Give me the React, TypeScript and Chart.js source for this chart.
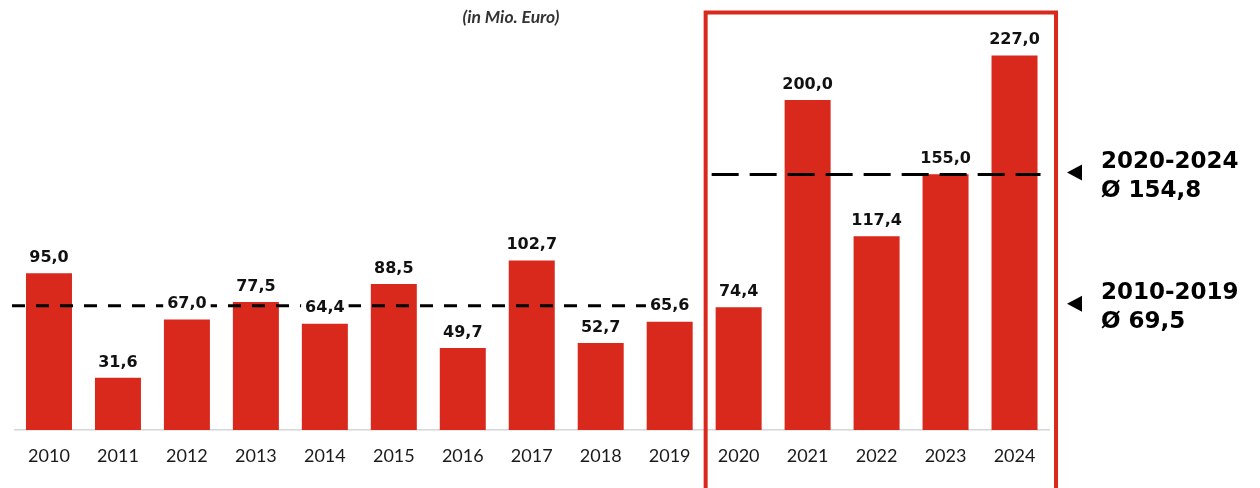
import React, { useEffect, useRef } from "react";
import { Chart, registerables } from "chart.js";

Chart.register(...registerables);

const years = ["2010", "2011", "2012", "2013", "2014", "2015", "2016", "2017", "2018", "2019", "2020", "2021", "2022", "2023", "2024"];
const values = [95.0, 31.6, 67.0, 77.5, 64.4, 88.5, 49.7, 102.7, 52.7, 65.6, 74.4, 200.0, 117.4, 155.0, 227.0];
const valueLabels = ["95,0", "31,6", "67,0", "77,5", "64,4", "88,5", "49,7", "102,7", "52,7", "65,6", "74,4", "200,0", "117,4", "155,0", "227,0"];

// average periods
const periodNames = ["2010-2019", "2020-2024"];
const periodAverages = ["Ø 69,5", "Ø 154,8"];
const periodStart = [0, 10];
const periodEnd = [9, 14];
const lineLevels = [75.3, 154.8];

const subtitle = "(in Mio. Euro)";

const RED = "#D9291C";

const overlayPlugin = {
  id: "overlay",
  afterDatasetsDraw(chart: any) {
    const ctx = chart.ctx;
    const x = chart.scales.x;
    const y = chart.scales.y;
    const meta = chart.getDatasetMeta(0);

    ctx.save();
    // highlight box
    const boxL = x.getPixelForValue(periodStart[1]) - 33;
    const boxR = x.getPixelForValue(periodEnd[1]) + 41.5;
    ctx.strokeStyle = RED;
    ctx.lineWidth = 4;
    ctx.strokeRect(boxL, 12.5, boxR - boxL, 600);

    // dashed average lines
    ctx.strokeStyle = "#000";
    ctx.lineWidth = 3;
    const dashes = [[13, 11], [27, 11]];
    const starts = [-37, -27];
    const ends = [-22, 26];
    for (let i = 0; i < 2; i++) {
      const ly = y.getPixelForValue(lineLevels[i]);
      ctx.setLineDash(dashes[i]);
      ctx.beginPath();
      ctx.moveTo(x.getPixelForValue(periodStart[i]) + starts[i], ly);
      ctx.lineTo(x.getPixelForValue(periodEnd[i]) + ends[i], ly);
      ctx.stroke();
    }
    ctx.setLineDash([]);

    // value labels with white background
    ctx.font = "bold 16px 'DejaVu Sans'";
    ctx.textAlign = "center";
    ctx.textBaseline = "middle";
    meta.data.forEach((bar: any, i: number) => {
      const ty = bar.y - 17;
      const w = ctx.measureText(valueLabels[i]).width;
      ctx.fillStyle = "#fff";
      ctx.fillRect(bar.x - w / 2 - 4, ty - 9, w + 8, 18);
      ctx.fillStyle = "#111";
      ctx.fillText(valueLabels[i], bar.x, ty + 1.5);
    });

    // right side annotations
    for (let i = 0; i < 2; i++) {
      const ly = y.getPixelForValue(lineLevels[i]);
      const c = ly - 2;
      ctx.fillStyle = "#000";
      ctx.beginPath();
      ctx.moveTo(1067, c);
      ctx.lineTo(1082, c - 8);
      ctx.lineTo(1082, c + 8);
      ctx.closePath();
      ctx.fill();
      ctx.font = "bold 23px 'DejaVu Sans'";
      ctx.textAlign = "left";
      ctx.textBaseline = "alphabetic";
      ctx.fillText(periodNames[i], 1101, ly - 7);
      ctx.fillText(periodAverages[i], 1101, ly + 22);
    }

    // subtitle
    ctx.font = "italic bold 17.5px Lato";
    ctx.textAlign = "center";
    ctx.textBaseline = "middle";
    ctx.fillStyle = "#333";
    ctx.fillText(subtitle, 511, 17);
    ctx.restore();
  },
};

export default function App() {
  const ref = useRef<HTMLCanvasElement>(null);
  useEffect(() => {
    if (!ref.current) return;
    const chart = new Chart(ref.current, {
      type: "bar",
      data: {
        labels: years,
        datasets: [
          {
            data: values,
            backgroundColor: RED,
            borderWidth: 0,
            barPercentage: 0.667,
            categoryPercentage: 1,
          },
        ],
      },
      options: {
        animation: false,
        responsive: false,
        events: [],
        layout: { padding: { left: 14.5, right: 211, top: 0, bottom: 0 } },
        plugins: { legend: { display: false }, tooltip: { enabled: false }, title: { display: false } },
        scales: {
          x: {
            grid: { display: false, drawTicks: false },
            border: { display: true, color: "#d6d6d6", width: 1.5 },
            ticks: { color: "#1a1a1a", font: { family: "Lato", size: 18 }, padding: 15, maxRotation: 0 },
            afterFit: (scale: any) => {
              scale.height = 58;
            },
          },
          y: {
            display: false,
            min: 0,
            max: 260.6,
          },
        },
      },
      plugins: [overlayPlugin],
    });
    return () => chart.destroy();
  }, []);
  return (
    <div style={{ position: "absolute", left: 0, top: 0, width: 1260, height: 488, background: "#fff" }}>
      <canvas ref={ref} width={1260} height={488} />
    </div>
  );
}
